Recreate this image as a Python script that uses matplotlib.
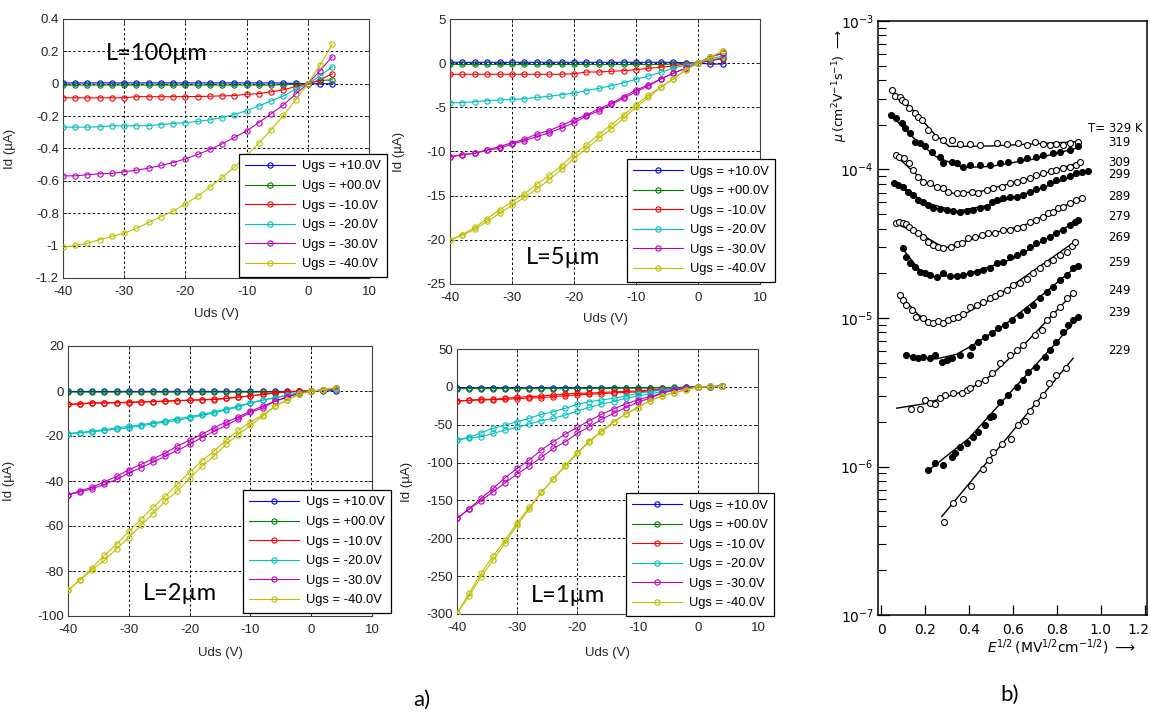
import numpy as np
import matplotlib
matplotlib.use("Agg")
import matplotlib.pyplot as plt
import matplotlib.transforms as mtransforms
from matplotlib.ticker import FixedLocator, FixedFormatter, LogLocator, NullFormatter

plt.rcParams['axes.unicode_minus'] = False
plt.rcParams['font.family'] = ['Liberation Sans', 'DejaVu Sans']

# ---------------- data: panel a (transfer/output curves) ----------------
Uds = [-40, -38, -36, -34, -32, -30, -28, -26, -24, -22, -20, -18, -16, -14, -12, -10, -8, -6, -4, -2, 0, 2, 4]

ugs_labels = ['Ugs = +10.0V', 'Ugs = +00.0V', 'Ugs = -10.0V', 'Ugs = -20.0V', 'Ugs = -30.0V', 'Ugs = -40.0V']
ugs_colors = ['#0000ff', '#008000', '#ff0000', '#00bfbf', '#bf00bf', '#bfbf00']

# L = 100 um  (uA)
L100_p10 = [0.005, 0.005, 0.005, 0.005, 0.005, 0.005, 0.005, 0.005, 0.005, 0.005, 0.005, 0.005, 0.005, 0.005, 0.005, 0.005, 0.005, 0.005, 0.004, 0.002, 0.0, 0.0, 0.0]
L100_p00 = [-0.008, -0.008, -0.008, -0.008, -0.008, -0.008, -0.008, -0.008, -0.008, -0.008, -0.008, -0.008, -0.008, -0.008, -0.008, -0.008, -0.008, -0.008, -0.006, -0.003, 0.0, 0.02, 0.024]
L100_m10 = [-0.087, -0.087, -0.087, -0.087, -0.087, -0.087, -0.08, -0.08, -0.08, -0.08, -0.079, -0.079, -0.077, -0.075, -0.073, -0.065, -0.061, -0.05, -0.038, -0.017, 0.0, 0.024, 0.062]
L100_m20 = [-0.268, -0.268, -0.268, -0.266, -0.26, -0.26, -0.26, -0.258, -0.252, -0.246, -0.24, -0.233, -0.223, -0.209, -0.19, -0.166, -0.137, -0.106, -0.075, -0.034, 0.0, 0.048, 0.106]
L100_m30 = [-0.569, -0.569, -0.562, -0.556, -0.554, -0.544, -0.534, -0.521, -0.505, -0.487, -0.464, -0.437, -0.406, -0.371, -0.332, -0.291, -0.24, -0.186, -0.131, -0.065, 0.0, 0.081, 0.168]
L100_m40 = [-1.011, -0.998, -0.986, -0.963, -0.943, -0.922, -0.894, -0.857, -0.822, -0.787, -0.741, -0.696, -0.639, -0.579, -0.515, -0.445, -0.367, -0.285, -0.196, -0.1, 0.0, 0.116, 0.244]

# L = 5 um (uA)
L5_p10 = [0.1, 0.1, 0.1, 0.1, 0.1, 0.1, 0.1, 0.1, 0.1, 0.1, 0.1, 0.1, 0.1, 0.1, 0.1, 0.1, 0.1, 0.1, 0.1, 0.05, 0.0, -0.1, -0.1]
L5_p00 = [-0.15, -0.15, -0.15, -0.15, -0.15, -0.15, -0.15, -0.15, -0.15, -0.15, -0.15, -0.15, -0.15, -0.15, -0.15, -0.15, -0.15, -0.15, -0.1, -0.05, 0.0, 0.3, 0.6]
L5_m10 = [-1.26, -1.26, -1.26, -1.26, -1.26, -1.26, -1.26, -1.26, -1.26, -1.26, -1.2, -1.0, -1.0, -0.92, -0.85, -0.74, -0.58, -0.47, -0.32, -0.1, 0.0, 0.3, 0.5]
L5_m20 = [-4.47, -4.47, -4.36, -4.25, -4.17, -4.1, -4.02, -3.87, -3.75, -3.57, -3.38, -3.11, -2.85, -2.55, -2.21, -1.83, -1.45, -1.04, -0.58, -0.2, 0.0, 0.5, 0.8]
L5_m30a = [-10.62, -10.36, -10.2, -9.83, -9.45, -9.0, -8.62, -8.02, -7.64, -7.04, -6.43, -5.87, -5.19, -4.55, -3.79, -3.04, -2.47, -1.79, -1.15, -0.58, 0.0, 0.74, 1.1]
L5_m30b = [-10.62, -10.36, -10.2, -9.83, -9.64, -9.15, -8.77, -8.32, -7.87, -7.34, -6.74, -5.98, -5.42, -4.66, -3.98, -3.23, -2.58, -1.79, -1.15, -0.58, 0.0, 0.74, 1.1]
L5_m40a = [-20.02, -19.4, -18.6, -17.6, -16.6, -15.7, -14.8, -13.7, -12.7, -11.6, -10.3, -9.26, -8.06, -7.0, -5.87, -4.74, -3.6, -2.74, -1.79, -0.77, 0.0, 0.66, 1.4]
L5_m40b = [-20.02, -19.5, -18.8, -17.9, -17.0, -16.1, -15.2, -14.25, -13.2, -12.0, -10.8, -9.7, -8.5, -7.45, -6.25, -5.0, -3.87, -2.74, -1.79, -0.77, 0.0, 0.66, 1.4]

# L = 2 um (uA)
L2_p10 = [-0.2, -0.2, -0.2, -0.2, -0.2, -0.2, -0.2, -0.2, -0.2, -0.2, -0.2, -0.2, -0.2, -0.2, -0.2, -0.2, -0.2, -0.2, -0.2, -0.2, 0.0, 0.2, 0.0]
L2_p00 = [-0.5, -0.5, -0.5, -0.5, -0.5, -0.5, -0.5, -0.5, -0.5, -0.5, -0.5, -0.5, -0.5, -0.5, -0.5, -0.5, -0.5, -0.5, -0.5, -0.3, 0.0, 0.3, 0.8]
L2_m10a = [-5.9, -5.6, -5.3, -5.3, -5.2, -4.9, -4.9, -4.7, -4.4, -4.3, -4.1, -3.9, -3.6, -3.3, -2.7, -2.2, -1.5, -0.9, -0.4, -0.1, 0.0, 0.3, 1.3]
L2_m10b = [-5.9, -5.9, -5.3, -5.3, -5.2, -5.2, -4.9, -4.7, -4.6, -4.3, -4.1, -3.9, -3.8, -3.3, -2.7, -2.2, -1.5, -0.9, -0.4, -0.1, 0.0, 0.3, 1.3]
L2_m20a = [-19.0, -18.5, -17.8, -17.2, -16.4, -15.7, -15.0, -14.1, -13.3, -12.4, -11.4, -10.4, -9.3, -8.0, -6.7, -5.3, -4.1, -3.0, -1.9, -0.9, 0.0, 0.3, 1.0]
L2_m20b = [-19.0, -18.5, -18.2, -17.5, -17.0, -16.3, -15.6, -14.5, -13.9, -13.0, -12.0, -10.8, -9.8, -8.4, -7.1, -5.3, -4.1, -3.0, -1.9, -0.9, 0.0, 0.3, 1.0]
L2_m30a = [-46.1, -44.4, -42.7, -40.4, -37.9, -35.0, -32.6, -30.1, -27.6, -24.4, -21.9, -19.3, -16.4, -13.8, -11.6, -9.0, -6.8, -4.6, -2.7, -1.2, 0.0, 0.5, 1.2]
L2_m30b = [-46.1, -44.9, -43.4, -41.5, -39.3, -36.4, -34.1, -31.6, -29.0, -26.4, -23.7, -20.7, -17.9, -15.3, -12.4, -9.5, -7.6, -4.6, -2.7, -1.2, 0.0, 0.5, 1.2]
L2_m40a = [-88.6, -83.9, -78.5, -73.0, -68.1, -62.4, -57.0, -51.6, -46.7, -41.5, -36.0, -31.1, -26.7, -21.9, -17.5, -13.8, -10.8, -6.8, -4.1, -1.5, 0.0, 0.5, 1.5]
L2_m40b = [-88.6, -83.9, -79.4, -75.3, -70.1, -65.2, -59.7, -54.5, -48.9, -44.4, -39.0, -33.5, -29.0, -23.7, -19.4, -15.3, -11.3, -6.8, -4.1, -1.5, 0.0, 0.5, 1.5]

# L = 1 um (uA)
L1_p10 = [-1.2, -1.2, -1.2, -1.2, -1.2, -1.2, -1.2, -1.2, -1.2, -1.2, -1.2, -1.2, -1.2, -1.2, -1.2, -1.2, -1.2, -1.2, -1.0, -0.6, 0.0, 0.3, 0.5]
L1_p00 = [-2.4, -2.4, -2.4, -2.4, -2.4, -2.4, -2.4, -2.4, -2.4, -2.4, -2.2, -2.0, -2.0, -1.8, -1.6, -1.5, -1.3, -1.0, -0.8, -0.5, 0.0, 0.3, 0.5]
L1_m10a = [-18.7, -17.8, -16.5, -16.5, -15.1, -13.8, -12.9, -12.1, -10.7, -9.4, -8.5, -8.5, -7.2, -6.8, -5.9, -5.5, -4.1, -3.3, -2.4, -1.5, 0.0, 0.3, 0.5]
L1_m10b = [-18.7, -17.8, -17.3, -17.0, -16.5, -15.6, -14.7, -14.3, -12.9, -11.6, -10.7, -9.8, -9.0, -8.1, -7.2, -6.8, -5.5, -4.1, -2.4, -1.5, 0.0, 0.3, 0.5]
L1_m20a = [-70.2, -66.6, -60.5, -54.8, -50.4, -46.0, -41.6, -36.3, -32.8, -28.3, -23.1, -19.6, -17.3, -15.1, -12.1, -8.5, -6.3, -4.1, -2.8, -1.5, 0.0, 0.3, 0.5]
L1_m20b = [-70.2, -67.5, -65.8, -61.4, -57.0, -53.5, -49.0, -44.7, -41.6, -37.2, -31.9, -27.0, -22.6, -19.6, -15.1, -12.1, -9.4, -6.3, -2.8, -1.5, 0.0, 0.3, 0.5]
L1_m30a = [-173.7, -161.4, -147.2, -134.1, -120.0, -107.6, -96.6, -83.4, -72.4, -62.3, -53.5, -44.6, -36.3, -29.2, -22.6, -17.3, -12.9, -8.5, -4.1, -1.9, 0.0, 0.5, 1.0]
L1_m30b = [-173.7, -161.4, -150.3, -138.5, -126.6, -115.1, -104.5, -93.1, -81.2, -72.4, -61.4, -52.6, -42.9, -35.0, -27.5, -20.4, -15.1, -8.5, -4.1, -1.9, 0.0, 0.5, 1.0]
L1_m40a = [-299.2, -272.8, -246.4, -223.5, -202.3, -179.4, -159.2, -139.4, -121.8, -103.3, -87.0, -71.6, -58.4, -46.0, -35.9, -27.5, -18.7, -12.1, -7.7, -4.1, 0.0, 0.5, 0.5]
L1_m40b = [-299.2, -276.3, -250.8, -228.8, -205.9, -182.5, -161.4, -139.4, -121.8, -104.6, -87.8, -72.4, -59.2, -46.9, -35.9, -27.5, -18.7, -12.1, -7.7, -4.1, 0.0, 0.5, 0.5]

# ---------------- data: panel b (mobility vs sqrt(E)) ----------------
temps = ['T= 329 K', '319', '309', '299', '289', '279', '269', '259', '249', '239', '229']

b329_x = [0.049, 0.064, 0.086, 0.094, 0.109, 0.125, 0.155, 0.170, 0.185, 0.215, 0.245, 0.283, 0.321, 0.359, 0.405, 0.450, 0.526, 0.571, 0.624, 0.662, 0.700, 0.738, 0.768, 0.798, 0.829, 0.859, 0.897]
b329_mu = [3.43, 3.15, 3.09, 2.95, 2.86, 2.60, 2.39, 2.25, 2.15, 1.84, 1.66, 1.58, 1.58, 1.49, 1.49, 1.46, 1.50, 1.49, 1.50, 1.47, 1.52, 1.49, 1.46, 1.49, 1.46, 1.50, 1.54]
b329_fx = [0.049, 0.16, 0.24, 0.31, 0.5, 0.897]
b329_fmu = [3.43, 2.39, 1.75, 1.43, 1.44, 1.54]

b319_x = [0.044, 0.068, 0.094, 0.109, 0.132, 0.155, 0.177, 0.200, 0.230, 0.268, 0.283, 0.321, 0.344, 0.374, 0.405, 0.450, 0.495, 0.541, 0.579, 0.632, 0.662, 0.707, 0.738, 0.783, 0.814, 0.859, 0.897]
b319_mu = [2.33, 2.21, 2.05, 1.89, 1.75, 1.54, 1.50, 1.43, 1.32, 1.22, 1.10, 1.13, 1.10, 1.045, 1.07, 1.08, 1.07, 1.10, 1.13, 1.16, 1.19, 1.22, 1.25, 1.285, 1.32, 1.35, 1.43]
b319_fx = [0.044, 0.15, 0.25, 0.37, 0.5, 0.7, 0.897]
b319_fmu = [2.33, 1.62, 1.22, 1.03, 1.05, 1.18, 1.40]

b309_x = [0.068, 0.083, 0.106, 0.129, 0.147, 0.170, 0.192, 0.223, 0.253, 0.283, 0.306, 0.344, 0.374, 0.412, 0.442, 0.480, 0.510, 0.548, 0.586, 0.617, 0.647, 0.677, 0.707, 0.738, 0.775, 0.798, 0.829, 0.859, 0.889, 0.905]
b309_mu = [1.25, 1.22, 1.19, 1.10, 0.993, 0.895, 0.828, 0.807, 0.766, 0.748, 0.710, 0.698, 0.698, 0.710, 0.698, 0.728, 0.748, 0.766, 0.807, 0.828, 0.849, 0.881, 0.918, 0.952, 0.982, 0.993, 1.02, 1.045, 1.07, 1.12]
b309_fx = [0.064, 0.2, 0.33, 0.45, 0.65, 0.905]
b309_fmu = [1.25, 0.82, 0.69, 0.71, 0.85, 1.12]

b299_x = [0.059, 0.078, 0.100, 0.124, 0.147, 0.170, 0.192, 0.215, 0.238, 0.268, 0.298, 0.329, 0.359, 0.389, 0.420, 0.450, 0.480, 0.503, 0.526, 0.556, 0.586, 0.617, 0.647, 0.677, 0.707, 0.738, 0.768, 0.798, 0.829, 0.859, 0.889, 0.912, 0.942]
b299_mu = [0.815, 0.787, 0.766, 0.710, 0.673, 0.624, 0.607, 0.577, 0.548, 0.540, 0.534, 0.526, 0.520, 0.528, 0.534, 0.548, 0.561, 0.607, 0.624, 0.640, 0.656, 0.656, 0.673, 0.710, 0.736, 0.766, 0.807, 0.849, 0.873, 0.904, 0.942, 0.966, 0.982]
b299_fx = [0.059, 0.2, 0.344, 0.5, 0.7, 0.942]
b299_fmu = [0.815, 0.60, 0.522, 0.58, 0.72, 0.98]

b289_x = [0.068, 0.083, 0.098, 0.114, 0.129, 0.144, 0.167, 0.189, 0.212, 0.235, 0.258, 0.280, 0.318, 0.344, 0.367, 0.397, 0.427, 0.457, 0.488, 0.518, 0.556, 0.586, 0.617, 0.647, 0.677, 0.707, 0.738, 0.761, 0.783, 0.806, 0.829, 0.859, 0.889, 0.912]
b289_mu = [0.434, 0.446, 0.434, 0.430, 0.412, 0.392, 0.372, 0.353, 0.327, 0.310, 0.302, 0.294, 0.302, 0.315, 0.318, 0.344, 0.353, 0.362, 0.372, 0.372, 0.392, 0.392, 0.402, 0.412, 0.446, 0.457, 0.481, 0.507, 0.520, 0.548, 0.561, 0.592, 0.624, 0.646]
b289_fx = [0.064, 0.19, 0.29, 0.45, 0.65, 0.912]
b289_fmu = [0.434, 0.36, 0.295, 0.355, 0.42, 0.646]

b279_x = [0.100, 0.115, 0.130, 0.155, 0.177, 0.200, 0.223, 0.253, 0.283, 0.314, 0.344, 0.374, 0.405, 0.435, 0.465, 0.495, 0.526, 0.556, 0.586, 0.617, 0.647, 0.677, 0.707, 0.738, 0.768, 0.798, 0.829, 0.859, 0.882, 0.897]
b279_mu = [0.294, 0.259, 0.233, 0.222, 0.205, 0.200, 0.195, 0.190, 0.200, 0.192, 0.192, 0.195, 0.200, 0.205, 0.210, 0.216, 0.233, 0.239, 0.259, 0.266, 0.279, 0.302, 0.318, 0.335, 0.353, 0.372, 0.392, 0.423, 0.446, 0.457]
b279_fx = [0.1, 0.17, 0.24, 0.38, 0.6, 0.897]
b279_fmu = [0.29, 0.215, 0.19, 0.195, 0.25, 0.457]

b269_x = [0.086, 0.100, 0.115, 0.139, 0.161, 0.192, 0.215, 0.238, 0.261, 0.283, 0.306, 0.329, 0.351, 0.374, 0.405, 0.435, 0.465, 0.495, 0.518, 0.541, 0.571, 0.601, 0.632, 0.662, 0.692, 0.723, 0.753, 0.783, 0.814, 0.844, 0.867, 0.882]
b269_mu = [0.143, 0.132, 0.122, 0.113, 0.102, 0.0995, 0.0944, 0.0929, 0.0959, 0.0929, 0.097, 0.0995, 0.102, 0.107, 0.119, 0.122, 0.129, 0.136, 0.141, 0.147, 0.155, 0.167, 0.171, 0.182, 0.200, 0.216, 0.233, 0.246, 0.266, 0.279, 0.305, 0.327]
b269_fx = [0.086, 0.17, 0.238, 0.35, 0.55, 0.882]
b269_fmu = [0.143, 0.105, 0.092, 0.10, 0.148, 0.327]

b259_x = [0.115, 0.146, 0.168, 0.192, 0.223, 0.245, 0.276, 0.298, 0.321, 0.359, 0.405, 0.412, 0.442, 0.473, 0.503, 0.533, 0.564, 0.594, 0.632, 0.662, 0.692, 0.723, 0.753, 0.783, 0.814, 0.844, 0.874, 0.897]
b259_mu = [5.64, 5.5, 5.4, 5.43, 5.36, 5.64, 5.08, 5.2, 5.4, 5.64, 5.64, 6.41, 6.92, 7.48, 7.88, 8.53, 8.98, 9.70, 10.5, 11.3, 12.2, 13.6, 15.0, 16.2, 18.0, 19.5, 21.6, 22.5]
b259_fx = [0.107, 0.25, 0.344, 0.42, 0.571, 0.723, 0.897]
b259_fmu = [5.6, 5.3, 5.7, 6.6, 9.2, 13.9, 22.7]

b249_x = [0.135, 0.176, 0.200, 0.223, 0.245, 0.268, 0.291, 0.329, 0.367, 0.389, 0.405, 0.442, 0.473, 0.503, 0.541, 0.586, 0.617, 0.647, 0.700, 0.730, 0.753, 0.783, 0.814, 0.844, 0.874]
b249_mu = [2.43, 2.44, 2.81, 2.67, 2.62, 2.88, 3.03, 3.14, 3.15, 3.27, 3.36, 3.63, 3.82, 4.24, 4.96, 5.64, 6.1, 6.58, 7.69, 8.3, 9.7, 10.7, 11.9, 13.6, 14.7]
b249_fx = [0.071, 0.2, 0.3, 0.4, 0.5, 0.65, 0.874]
b249_fmu = [2.47, 2.65, 2.95, 3.3, 4.1, 6.6, 14.7]

b239_x = [0.215, 0.245, 0.283, 0.321, 0.336, 0.359, 0.389, 0.420, 0.442, 0.473, 0.495, 0.510, 0.541, 0.579, 0.617, 0.647, 0.670, 0.707, 0.745, 0.768, 0.798, 0.829, 0.852, 0.874, 0.897]
b239_mu = [0.946, 1.06, 1.02, 1.16, 1.23, 1.36, 1.43, 1.59, 1.71, 1.90, 2.16, 2.18, 2.73, 3.03, 3.44, 3.82, 4.35, 4.7, 5.5, 6.1, 6.92, 8.09, 8.98, 9.7, 10.2]
b239_fx = [0.215, 0.4, 0.6, 0.8, 0.897]
b239_fmu = [0.94, 1.55, 3.3, 6.9, 10.2]

b229_x = [0.286, 0.329, 0.371, 0.409, 0.465, 0.492, 0.510, 0.548, 0.589, 0.624, 0.654, 0.677, 0.704, 0.738, 0.765, 0.798, 0.841]
b229_mu = [0.425, 0.565, 0.604, 0.743, 0.957, 1.11, 1.26, 1.42, 1.52, 1.90, 2.03, 2.37, 2.67, 3.03, 3.63, 4.13, 4.58]
b229_fx = [0.276, 0.874]
b229_fmu = [0.46, 5.36]

# ---------------- figure ----------------
W, H = 1151, 713
fig = plt.figure(figsize=(W / 100, H / 100), dpi=100)


def px_axes(l, t, r, b):
    return fig.add_axes([l / W, 1 - b / H, (r - l) / W, (b - t) / H])


TICK_C = '#262626'


def panel_a(rect, series, ylim, yticks, yticklabels, leg_xy, txt, txt_xy, ylab_x, xlab_y):
    ax = px_axes(*rect)
    for i, (fwd, bwd) in enumerate(series):
        ax.plot(Uds, fwd, '-o', color=ugs_colors[i], lw=0.8, ms=3.8, mfc='none', mew=0.8,
                label=ugs_labels[i], zorder=3)
        if bwd is not None:
            ax.plot(Uds, bwd, '-o', color=ugs_colors[i], lw=0.8, ms=3.8, mfc='none', mew=0.8, zorder=3)
    ax.set_xlim(-40, 10)
    ax.set_ylim(*ylim)
    ax.xaxis.set_major_locator(FixedLocator([-40, -30, -20, -10, 0, 10]))
    ax.set_xticklabels(['-40', '-30', '-20', '-10', '0', '10'])
    ax.yaxis.set_major_locator(FixedLocator(yticks))
    ax.yaxis.set_major_formatter(FixedFormatter(yticklabels))
    ax.grid(True, linestyle=(0, (2.5, 2.5)), color='k', lw=0.7)
    ax.tick_params(direction='in', length=3, width=0.6, labelsize=9.5, colors=TICK_C,
                   top=True, right=True)
    ax.tick_params(axis='x', pad=6)
    ax.tick_params(axis='y', pad=3)
    for s in ax.spines.values():
        s.set_color('#404040')
        s.set_linewidth(0.8)
    ax.set_ylabel('Id (µA)', fontsize=9.5, color=TICK_C)
    ax.set_xlabel('Uds (V)', fontsize=9.5, color=TICK_C)
    l, t, r, b = rect
    ax.yaxis.set_label_coords((ylab_x - l) / (r - l), 0.5)
    ax.xaxis.set_label_coords(0.5, (b - xlab_y) / (b - t))
    leg = ax.legend(loc='upper left', bbox_to_anchor=(leg_xy[0] / W, 1 - leg_xy[1] / H),
                    bbox_transform=fig.transFigure, fontsize=9.3, frameon=True, fancybox=False,
                    edgecolor='k', framealpha=1, handlelength=3.8, handletextpad=0.55,
                    labelspacing=0.58, borderpad=0.5, borderaxespad=0, numpoints=1)
    leg.get_frame().set_linewidth(0.9)
    leg.set_zorder(10)
    fig.text(txt_xy[0] / W, 1 - txt_xy[1] / H, txt, family=['Lato', 'DejaVu Sans'],
             fontsize=17, ha='center', va='center')
    return ax


panel_a((63, 19, 369, 278),
        [(L100_p10, None), (L100_p00, None), (L100_m10, None), (L100_m20, None), (L100_m30, None), (L100_m40, None)],
        (-1.2, 0.4), [-1.2, -1.0, -0.8, -0.6, -0.4, -0.2, 0, 0.2, 0.4],
        ['-1.2', '-1', '-0.8', '-0.6', '-0.4', '-0.2', '0', '0.2', '0.4'],
        (239, 154), 'L=100µm', (157, 53), 16, 308)

panel_a((450, 19, 760, 284),
        [(L5_p10, None), (L5_p00, None), (L5_m10, None), (L5_m20, None), (L5_m30a, L5_m30b), (L5_m40a, L5_m40b)],
        (-25, 5), [-25, -20, -15, -10, -5, 0, 5],
        ['-25', '-20', '-15', '-10', '-5', '0', '5'],
        (627, 159), 'L=5µm', (563, 257), 405, 313)

panel_a((68, 346, 372, 616),
        [(L2_p10, None), (L2_p00, None), (L2_m10a, L2_m10b), (L2_m20a, L2_m20b), (L2_m30a, L2_m30b), (L2_m40a, L2_m40b)],
        (-100, 20), [-100, -80, -60, -40, -20, 0, 20],
        ['-100', '-80', '-60', '-40', '-20', '0', '20'],
        (243, 490), 'L=2µm', (180, 593), 15, 647)

panel_a((457, 349, 758, 614),
        [(L1_p10, None), (L1_p00, None), (L1_m10a, L1_m10b), (L1_m20a, L1_m20b), (L1_m30a, L1_m30b), (L1_m40a, L1_m40b)],
        (-300, 50), [-300, -250, -200, -150, -100, -50, 0, 50],
        ['-300', '-250', '-200', '-150', '-100', '-50', '0', '50'],
        (626, 493), 'L=1µm', (568, 595), 413, 647)

fig.text(422 / W, 1 - 700 / H, 'a)', family=['Lato', 'DejaVu Sans'], fontsize=16, ha='center', va='center')

# ---------------- panel b ----------------
axb = px_axes(878, 21, 1147, 615)
curves_b = [
    (b329_x, b329_mu, b329_fx, b329_fmu, 1e-4, False),
    (b319_x, b319_mu, b319_fx, b319_fmu, 1e-4, True),
    (b309_x, b309_mu, b309_fx, b309_fmu, 1e-4, False),
    (b299_x, b299_mu, b299_fx, b299_fmu, 1e-4, True),
    (b289_x, b289_mu, b289_fx, b289_fmu, 1e-4, False),
    (b279_x, b279_mu, b279_fx, b279_fmu, 1e-4, True),
    (b269_x, b269_mu, b269_fx, b269_fmu, 1e-4, False),
    (b259_x, b259_mu, b259_fx, b259_fmu, 1e-6, True),
    (b249_x, b249_mu, b249_fx, b249_fmu, 1e-6, False),
    (b239_x, b239_mu, b239_fx, b239_fmu, 1e-6, True),
    (b229_x, b229_mu, b229_fx, b229_fmu, 1e-6, False),
]
for mx, mm, fx, fm, unit, filled in curves_b:
    axb.plot(fx, np.array(fm) * unit, '-', color='k', lw=1.0, zorder=2)
    axb.plot(mx, np.array(mm) * unit, 'o', ms=4.3, mec='k', mew=0.8,
             mfc='k' if filled else 'w', zorder=3)

axb.set_yscale('log')
axb.set_xlim(-0.014, 1.21)
axb.set_ylim(1e-7, 1e-3)
axb.xaxis.set_major_locator(FixedLocator([0, 0.2, 0.4, 0.6, 0.8, 1.0, 1.2]))
axb.set_xticklabels(['0', '0.2', '0.4', '0.6', '0.8', '1.0', '1.2'])
axb.yaxis.set_major_locator(LogLocator(base=10, numticks=10))
axb.yaxis.set_minor_locator(LogLocator(base=10, subs=np.arange(2, 10), numticks=20))
axb.yaxis.set_minor_formatter(NullFormatter())
axb.tick_params(axis='y', which='major', direction='in', length=8, width=0.9, labelsize=10, pad=3,
                right=False)
axb.tick_params(axis='y', which='minor', direction='in', length=6, width=0.8, right=False)
axb.tick_params(axis='x', which='major', direction='in', length=7, width=0.9, labelsize=10, pad=6,
                top=False)
for lab in axb.get_yticklabels() + axb.get_xticklabels():
    lab.set_family(['DejaVu Sans'])
# keep the last x tick label inside the picture
last = axb.get_xticklabels()[-1]
last.set_transform(last.get_transform() + mtransforms.ScaledTranslation(-6 / 100, 0, fig.dpi_scale_trans))
for s in axb.spines.values():
    s.set_color('k')
    s.set_linewidth(1.1)

temp_y = [128, 143, 162, 174, 197, 217, 238, 263, 290, 312, 351]
for k, t in enumerate(temps):
    xx = 1088 if k == 0 else 1108
    fig.text(xx / W, 1 - temp_y[k] / H, t, family=['DejaVu Sans'], fontsize=8.5, ha='left', va='center')

fig.text(840 / W, 1 - 86 / H, r'$\mu\,(\mathrm{cm^2V^{-1}s^{-1}})$ $\longrightarrow$',
         rotation=90, ha='center', va='center', fontsize=9, family=['DejaVu Sans'])
fig.text(1062 / W, 1 - 647 / H, r'$E^{1/2}\,(\mathrm{MV^{1/2}cm^{-1/2}})$ $\longrightarrow$',
         ha='center', va='center', fontsize=10, family=['DejaVu Sans'])
fig.text(1010 / W, 1 - 695 / H, 'b)', family=['Lato', 'DejaVu Sans'], fontsize=16, ha='center', va='center')

fig.savefig('out.png', dpi=100, facecolor='white')
